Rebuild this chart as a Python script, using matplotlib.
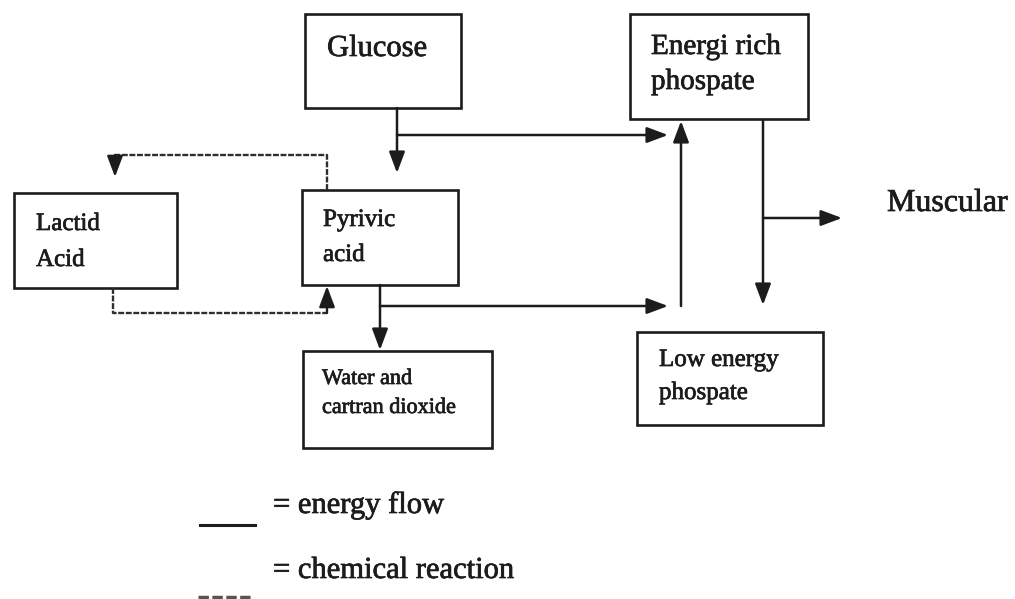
import matplotlib
matplotlib.use("Agg")
import matplotlib.pyplot as plt
from matplotlib.patches import Rectangle
import matplotlib.patheffects as pe

INK = "#1c1c1c"
DASH = "#2e2e2e"
plt.rcParams["font.family"] = ["Liberation Serif", "DejaVu Serif"]

# box labels (one list of lines per box)
box_names = ["glucose", "energi", "lactid", "pyrivic", "water", "low"]
box_lines = [
    ["Glucose"],
    ["Energi rich", "phospate"],
    ["Lactid", "Acid"],
    ["Pyrivic", "acid"],
    ["Water and", "cartran dioxide"],
    ["Low energy", "phospate"],
]
free_label = "Muscular"
legend_labels = ["= energy flow", "= chemical reaction"]

# layout in pixel space (x0, y0, x1, y1), y grows downwards
box_rect = {
    "glucose": (305, 14, 461, 108),
    "energi": (630, 14, 808, 119),
    "lactid": (14, 193, 177, 288),
    "pyrivic": (302, 190, 458, 285),
    "water": (303, 351, 492, 448),
    "low": (637, 332, 823, 425),
}
# text anchor x, baselines, font size
box_text = {
    "glucose": (327, [56], 22),
    "energi": (651, [54, 89], 21),
    "lactid": (36, [230, 266], 18),
    "pyrivic": (323, [226, 261], 18),
    "water": (322, [384, 413], 16),
    "low": (659, [366, 399], 18),
}

fig = plt.figure(figsize=(10.15, 5.99), dpi=100)
ax = fig.add_axes([0, 0, 1, 1])
ax.set_xlim(0, 1015)
ax.set_ylim(599, 0)
ax.axis("off")

# scanned look: slightly heavier glyphs
heavy = [pe.withStroke(linewidth=0.5, foreground=INK)]

for name, lines in zip(box_names, box_lines):
    x0, y0, x1, y1 = box_rect[name]
    ax.add_patch(Rectangle((x0, y0), x1 - x0, y1 - y0, fill=False,
                           edgecolor=INK, linewidth=1.9))
    tx, bases, fs = box_text[name]
    for line, by in zip(lines, bases):
        ax.text(tx, by, line, fontsize=fs, color=INK, ha="left", va="baseline",
                path_effects=heavy)


def flow(pts, dashed=False):
    """polyline ending with an arrowhead at the last point"""
    color = DASH if dashed else INK
    ls = (0, (2.5, 0.7)) if dashed else "-"
    lw = 1.7 if dashed else 1.8
    xs = [p[0] for p in pts]
    ys = [p[1] for p in pts]
    ax.plot(xs[:-1], ys[:-1], color=color, lw=lw, ls=ls, solid_capstyle="butt")
    ax.annotate("", xy=pts[-1], xytext=pts[-2],
                arrowprops=dict(arrowstyle="-|>,head_length=0.8,head_width=0.3",
                                color=INK, lw=lw, shrinkA=0, shrinkB=0,
                                mutation_scale=16))


# glucose -> pyrivic, branch to energi rich
flow([(397, 108), (397, 173)])
flow([(397, 135), (668, 135)])
# pyrivic -> water, branch to energi rich
flow([(380, 285), (380, 350)])
flow([(380, 306), (668, 306)])
# up into energi rich
flow([(681, 306), (681, 121)])
# energi rich -> low energy, branch to muscular
flow([(763, 121), (763, 305)])
flow([(763, 218), (842, 218)])
# lactic acid loop (dashed)
flow([(327, 190), (327, 155), (115, 155), (115, 177)], dashed=True)
flow([(113, 288), (113, 313), (327, 313), (327, 286)], dashed=True)

ax.text(887, 211, free_label, fontsize=23, color=INK, ha="left", va="baseline",
        path_effects=heavy)

# legend
ax.plot([200, 255], [525, 525], color=INK, lw=2.2)
ax.plot([198, 252], [597, 597], color="#555555", lw=2.5, ls=(0, (3, 1)))
ax.text(273, 513, legend_labels[0], fontsize=22, color=INK, va="baseline",
        path_effects=heavy)
ax.text(273, 578, legend_labels[1], fontsize=22, color=INK, va="baseline",
        path_effects=heavy)

fig.savefig("out.png", dpi=100, facecolor="white")
